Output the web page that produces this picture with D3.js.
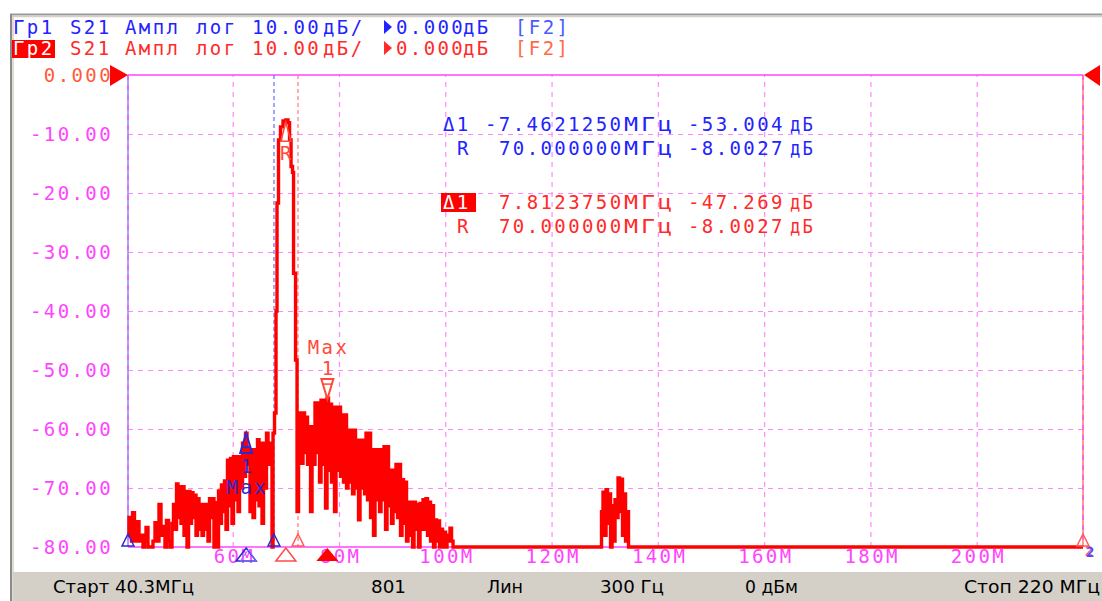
<!DOCTYPE html>
<html><head><meta charset="utf-8">
<script src="https://cdn.jsdelivr.net/npm/d3@7"></script>
<style>
html,body{margin:0;padding:0;background:#fff;}
svg{display:block;}
.mono{font-family:"DejaVu Sans Mono","Liberation Mono",monospace;font-size:19px;letter-spacing:2.4px;}
.stat{font-family:"Liberation Sans Narrow","DejaVu Sans Condensed","Liberation Sans",sans-serif;font-size:17px;fill:#000;}
</style></head><body>
<svg id="c" width="1102" height="601"></svg>
<script>
// ---------- data ----------
const startMHz = 40.3, stopMHz = 220;
const refDb = 0, bottomDb = -80;
const yTicks = [0, -10, -20, -30, -40, -50, -60, -70, -80];
const yTickLabels = ["0.000", "-10.00", "-20.00", "-30.00", "-40.00", "-50.00", "-60.00", "-70.00", "-80.00"];
const xTicks = [60, 80, 100, 120, 140, 160, 180, 200];
const xTickLabels = ["60M", "80M", "100M", "120M", "140M", "160M", "180M", "200M"];

// trace 2 (S21, dB): [MHz, dB]
const lowBandTrace = [
 [40.30,-78],[40.49,-75],[40.96,-79],[41.15,-74.2],[41.52,-79],[41.90,-75.7],[42.37,-79],[42.75,-78],
 [43.12,-80],[43.40,-79],[43.69,-76.7],[44.06,-80],[44.63,-80],[45.00,-79],[45.38,-75.9],[45.76,-79],
 [46.13,-72.8],[46.51,-78],[46.89,-76.5],[47.26,-80],[47.54,-75.5],[47.92,-79],[48.20,-80],[48.58,-76],
 [48.86,-72.8],[49.14,-77],[49.43,-69.3],[49.71,-75],[49.99,-69.8],[50.27,-76],[50.56,-69.8],[50.84,-78],
 [51.12,-70.6],[51.40,-80],[51.69,-70.6],[51.97,-76],[52.25,-70.8],[52.53,-75],[52.81,-71.2],[53.10,-78],
 [53.38,-71.8],[53.66,-77],[53.94,-72.8],[54.23,-78],[54.51,-72.8],[54.79,-77],[55.07,-72.8],[55.35,-79],
 [55.64,-71.8],[55.92,-75],[56.20,-71.8],[56.48,-80],[56.77,-72.5],[57.05,-80],[57.33,-70.5],[57.61,-76],
 [57.89,-69.5],[58.18,-74],[58.46,-68.8],[58.74,-77],[59.02,-65.3],[59.31,-73],[59.59,-65],[59.87,-76],
 [60.15,-64.7],[60.44,-72],[60.72,-64.7],[61.00,-74],[61.28,-64.7],[61.57,-70],[61.85,-62.4],[62.13,-68],
 [62.41,-60.7],[62.69,-66],[62.98,-63.5],[63.26,-74],[63.54,-63.5],[63.82,-75],[64.11,-63.5],[64.39,-72],
 [64.67,-61.8],[64.95,-73],[65.23,-62.4],[65.52,-76],[65.80,-62.4],[66.08,-70],[66.36,-60.7],[66.65,-66],
 [66.93,-62.4],[67.21,-65],[67.40,-80]
];
const peakTrace = [
 [67.59,-60.7],[67.87,-57.3],[68.15,-40],[68.34,-21.7],[68.62,-11],[69.00,-8.8],[69.47,-7.8],[70.00,-7.6],
 [70.41,-8.1],[70.70,-11],[70.98,-15.5],[71.26,-16.5],[71.45,-33.6],[71.83,-48.3],[72.11,-74]
];
const upperBandTrace = [
 [72.39,-63],[72.67,-57.3],[72.95,-65.8],[73.23,-57.3],[73.52,-64],[73.80,-58],[74.08,-66],[74.36,-59.6],
 [74.65,-74],[74.93,-59.6],[75.21,-66],[75.49,-55.6],[75.77,-64],[76.06,-55.6],[76.34,-69],[76.62,-55.1],
 [76.90,-66],[77.19,-55.1],[77.47,-73.4],[77.75,-54.8],[78.03,-67],[78.31,-55.8],[78.60,-69],[78.88,-56.3],
 [79.16,-74],[79.44,-56.3],[79.72,-67],[80.01,-56.3],[80.29,-68],[80.57,-57.6],[80.85,-69],[81.14,-57.6],
 [81.42,-70],[81.70,-60.2],[81.98,-69],[82.27,-60.2],[82.55,-71],[82.83,-60.2],[83.11,-70],[83.39,-61.9],
 [83.68,-75.4],[83.96,-61.9],[84.24,-70],[84.52,-61.9],[84.81,-71],[85.09,-60.7],[85.37,-72],[85.65,-60.7],
 [85.94,-75],[86.22,-63.5],[86.50,-78],[86.78,-63.5],[87.06,-72],[87.35,-63.5],[87.63,-74],[87.91,-63.5],
 [88.19,-72],[88.48,-63],[88.76,-77],[89.04,-63],[89.32,-73],[89.60,-67],[89.89,-76],[90.17,-67],
 [90.45,-74],[90.73,-66],[91.02,-75],[91.30,-66],[91.58,-78],[91.86,-68.6],[92.14,-76],[92.43,-69],
 [92.71,-79],[92.99,-72.4],[93.27,-78],[93.56,-72.4],[93.84,-80],[94.12,-72.4],[94.40,-77],[94.68,-72.8],
 [94.97,-80],[95.25,-72.6],[95.53,-77],[95.81,-72],[96.10,-77],[96.38,-71.8],[96.66,-78],[96.94,-72.4],
 [97.23,-79],[97.51,-73],[97.79,-80],[98.07,-75.4],[98.36,-79],[98.64,-75.6],[98.92,-80],[99.20,-77],
 [99.48,-80],[99.77,-77.5],[100.05,-80],[100.33,-79],[100.61,-78],[100.89,-76.8],[101.18,-79],[101.46,-80]
];
const spurTrace = [
 [129.12,-80],[129.40,-74],[129.68,-70.7],[129.97,-78],[130.25,-70.3],[130.53,-76],[130.81,-71],[131.10,-80],
 [131.38,-73],[131.66,-79],[131.94,-72],[132.23,-75],[132.51,-68.3],[132.79,-74],[133.07,-68.5],[133.35,-78],
 [133.64,-71],[133.92,-79],[134.20,-74],[134.48,-80]
];
const tailTrace = [[220.0,-80]];

// markers
const refMarker = {mhz: 70.0, db: -8.0027};
const blueDelta = {mhz: 70.0 - 7.462125, db: -8.0027 - 53.004};
const redDelta = {mhz: 70.0 + 7.812375, db: -8.0027 - 47.269};
const blueLineMHz = 67.77, redLineMHz = 72.29;

const headerWords = ["Гр1", "S21", "Ампл", "лог", "10.00", "дБ/", "0.000", "дБ", "[F2]"];
const header2Words = ["Гр2", "S21", "Ампл", "лог", "10.00", "дБ/", "0.000", "дБ", "[F2]"];
const readBlue = [["Δ1", "-7.4621250", "МГц", "-53.004", "дБ"], ["R", "70.000000", "МГц", "-8.0027", "дБ"]];
const readRed  = [["Δ1", "7.8123750", "МГц", "-47.269", "дБ"], ["R", "70.000000", "МГц", "-8.0027", "дБ"]];
const statusTexts = ["Старт 40.3МГц", "801", "Лин", "300 Гц", "0 дБм", "Стоп 220 МГц"];

// ---------- drawing ----------
const svg = d3.select("#c");
const L = 128, R = 1083, T = 75, B = 547;
const x = d3.scaleLinear().domain([startMHz, stopMHz]).range([L, R]);
const y = d3.scaleLinear().domain([bottomDb, refDb]).range([B, T]);

const MAG = "#ff44ff", GRID = "#ff88ff", RED = "#ff0000", BLUE = "#2323ff", MBLUE = "#2a2ad0", MRED = "#ff4a3a", TRED = "#ff2a2a";

svg.append("rect").attr("width", 1102).attr("height", 601).attr("fill", "#fff");
// frame
svg.append("rect").attr("x", 13).attr("y", 572).attr("width", 1089).attr("height", 29).attr("fill", "#d4d0c8");
svg.append("line").attr("x1", 10).attr("x2", 1102).attr("y1", 14.5).attr("y2", 14.5).attr("stroke", "#9a9a9a").attr("stroke-width", 2);
svg.append("line").attr("x1", 10).attr("x2", 1102).attr("y1", 16.5).attr("y2", 16.5).attr("stroke", "#d4d0c8").attr("stroke-width", 1.5);
svg.append("line").attr("x1", 11).attr("x2", 11).attr("y1", 14).attr("y2", 601).attr("stroke", "#8a8a8a").attr("stroke-width", 2);
svg.append("line").attr("x1", 13).attr("x2", 13).attr("y1", 16).attr("y2", 601).attr("stroke", "#d4d0c8").attr("stroke-width", 1.5);

// grid
const gy = svg.append("g").attr("transform", `translate(${L},0)`)
  .call(d3.axisLeft(y).tickValues(yTicks.slice(1, -1)).tickSize(-(R - L)).tickFormat(""));
gy.select(".domain").remove();
gy.selectAll("line").attr("stroke", GRID).attr("stroke-dasharray", "5,5").attr("stroke-width", 1.2);
const gx = svg.append("g").attr("transform", `translate(0,${B})`)
  .call(d3.axisBottom(x).tickValues(xTicks).tickSize(-(B - T)).tickFormat(""));
gx.select(".domain").remove();
gx.selectAll("line").attr("stroke", GRID).attr("stroke-dasharray", "5,5").attr("stroke-width", 1.2);

// start/stop marker lines and borders
svg.append("line").attr("x1", x(startMHz)).attr("x2", x(startMHz)).attr("y1", T).attr("y2", B).attr("stroke", "#8a8aff").attr("stroke-width", 1.5);
svg.append("line").attr("x1", x(stopMHz)).attr("x2", x(stopMHz)).attr("y1", T).attr("y2", B).attr("stroke", "#ff9a9a").attr("stroke-width", 2);
[startMHz, stopMHz].forEach(f => svg.append("line").attr("x1", x(f)).attr("x2", x(f)).attr("y1", T).attr("y2", B)
  .attr("stroke", MAG).attr("stroke-dasharray", "5,5").attr("stroke-width", 1.2));
svg.append("line").attr("x1", L).attr("x2", R).attr("y1", y(refDb)).attr("y2", y(refDb)).attr("stroke", MAG).attr("stroke-width", 1.5);
svg.append("line").attr("x1", L).attr("x2", R).attr("y1", y(bottomDb)).attr("y2", y(bottomDb)).attr("stroke", MAG).attr("stroke-width", 1.5);

// bandwidth marker lines
svg.append("line").attr("x1", x(blueLineMHz)).attr("x2", x(blueLineMHz)).attr("y1", T).attr("y2", B)
  .attr("stroke", "#6a6aff").attr("stroke-dasharray", "4,3").attr("stroke-width", 1.2);
svg.append("line").attr("x1", x(redLineMHz)).attr("x2", x(redLineMHz)).attr("y1", T).attr("y2", B)
  .attr("stroke", "#ff7a7a").attr("stroke-dasharray", "4,3").attr("stroke-width", 1.2);

// trace
const trace = [].concat(lowBandTrace, peakTrace, upperBandTrace, spurTrace, tailTrace);
const line = d3.line().x(d => x(d[0])).y(d => y(Math.max(bottomDb, d[1]))).curve(d3.curveStepAfter);
svg.append("path").datum(trace).attr("d", line).attr("fill", "none").attr("stroke", RED)
  .attr("stroke-width", 3.4).attr("stroke-linejoin", "miter");

// y labels
const ya = svg.append("g").attr("transform", `translate(${L},0)`)
  .call(d3.axisLeft(y).tickValues(yTicks).tickSize(0).tickPadding(15).tickFormat((d, i) => yTickLabels[i]));
ya.select(".domain").remove();
ya.selectAll("text").attr("class", "mono").attr("font-size", null).attr("font-family", null)
  .attr("fill", (d, i) => i === 0 ? "#ff5a3a" : MAG);
// x labels
const xa = svg.append("g").attr("transform", `translate(0,${B})`)
  .call(d3.axisBottom(x).tickValues(xTicks).tickSize(0).tickPadding(2).tickFormat((d, i) => xTickLabels[i]));
xa.select(".domain").remove();
xa.selectAll("text").attr("class", "mono").attr("font-size", null).attr("font-family", null)
  .attr("fill", MAG).attr("dx", "1.2");

// reference level arrows
svg.append("path").attr("d", `M${L - 18},${y(refDb) - 10}L${L},${y(refDb)}L${L - 18},${y(refDb) + 11}Z`).attr("fill", RED);
svg.append("path").attr("d", `M${R + 17},${y(refDb) - 10}L${R + 1},${y(refDb)}L${R + 17},${y(refDb) + 11}Z`).attr("fill", RED);

// small marker triangles at floor
function upTri(cx, tipY, hw, h) { return `M${cx},${tipY}L${cx + hw},${tipY + h}L${cx - hw},${tipY + h}Z`; }
function downTri(cx, tipY, hw, h) { return `M${cx},${tipY}L${cx + hw},${tipY - h}L${cx - hw},${tipY - h}Z`; }
[[startMHz, MBLUE], [blueLineMHz, MBLUE], [redLineMHz, "#ff5a5a"], [stopMHz, "#ff5a5a"]].forEach(([f, c]) =>
  svg.append("path").attr("d", upTri(x(f), B - 13, 6, 12)).attr("fill", "none").attr("stroke", c).attr("stroke-width", 1.5));
svg.append("text").attr("x", x(stopMHz) + 2).attr("y", B + 9).attr("fill", "#ff5a5a")
  .style("font-family", "DejaVu Sans Mono").style("font-size", "14px").style("font-weight", "bold").text("2");
svg.append("text").attr("x", x(stopMHz) + 3).attr("y", B + 10).attr("fill", "#4a4aff")
  .style("font-family", "DejaVu Sans Mono").style("font-size", "14px").style("font-weight", "bold").text("2");

// stimulus triangles below axis
svg.append("path").attr("d", upTri(x(blueDelta.mhz), B + 1, 10, 13)).attr("fill", "none").attr("stroke", MBLUE).attr("stroke-width", 1.5);
svg.append("path").attr("d", upTri(x(blueDelta.mhz) + 2, B + 3, 8, 11)).attr("fill", "none").attr("stroke", "#7a7aff").attr("stroke-width", 1);
svg.append("path").attr("d", upTri(x(refMarker.mhz), B + 1, 10, 13)).attr("fill", "none").attr("stroke", "#ff4a4a").attr("stroke-width", 1.5);
svg.append("path").attr("d", upTri(x(redDelta.mhz), B + 1, 11, 13)).attr("fill", RED);

// R marker
svg.append("path").attr("d", upTri(x(refMarker.mhz), y(refMarker.db), 5, 19)).attr("fill", "none").attr("stroke", MRED).attr("stroke-width", 1.5);
svg.append("text").attr("class", "mono").attr("x", x(refMarker.mhz) + 1.2).attr("y", y(refMarker.db) + 38)
  .attr("text-anchor", "middle").attr("fill", MRED).text("R");

// blue delta marker 1
const bx = x(blueDelta.mhz), byy = y(blueDelta.db);
svg.append("path").attr("d", upTri(bx, byy - 2, 6, 20)).attr("fill", "none").attr("stroke", MBLUE).attr("stroke-width", 2);
svg.append("line").attr("x1", bx - 4).attr("x2", bx + 4).attr("y1", byy + 12).attr("y2", byy + 12).attr("stroke", MBLUE).attr("stroke-width", 2);
svg.append("text").attr("class", "mono").attr("x", bx + 1.2).attr("y", byy + 38).attr("text-anchor", "middle").attr("fill", MBLUE).text("1");
svg.append("text").attr("class", "mono").attr("x", bx + 1.2).attr("y", byy + 59).attr("text-anchor", "middle").attr("fill", MBLUE).text("Max");

// red delta marker 1
const rx = x(redDelta.mhz), ryy = y(redDelta.db);
svg.append("path").attr("d", downTri(rx, ryy - 2, 6, 20)).attr("fill", "none").attr("stroke", MRED).attr("stroke-width", 2);
svg.append("line").attr("x1", rx - 5).attr("x2", rx + 5).attr("y1", ryy - 17).attr("y2", ryy - 17).attr("stroke", MRED).attr("stroke-width", 1.5);
svg.append("text").attr("class", "mono").attr("x", rx + 1.2).attr("y", ryy - 26).attr("text-anchor", "middle").attr("fill", MRED).text("1");
svg.append("text").attr("class", "mono").attr("x", rx + 1.2).attr("y", ryy - 47).attr("text-anchor", "middle").attr("fill", MRED).text("Max");

// header
const headX = [13, 70, 125, 196, 252, 323, 396, 463, 515];
function header(words, yy, color, f2color, boxColor) {
  words.forEach((w, i) => {
    if (i === 0 && boxColor) svg.append("rect").attr("x", 12).attr("y", yy - 15).attr("width", 43).attr("height", 18).attr("fill", boxColor);
    svg.append("text").attr("class", "mono").attr("x", headX[i]).attr("y", yy)
      .attr("fill", i === 0 && boxColor ? "#fff" : (i === 8 ? f2color : color)).text(w);
  });
  svg.append("path").attr("d", `M384,${yy - 14}L392,${yy - 7}L384,${yy}Z`).attr("fill", color);
}
header(headerWords, 34, BLUE, "#4a5aff", null);
header(header2Words, 55, TRED, "#ff6a4a", RED);

// readouts
function readout(rows, y0, color, boxed) {
  rows.forEach((row, r) => {
    const yy = y0 + r * 24;
    const xs = [row[0] === "R" ? 457 : 443, row[1].startsWith("-") ? 485 : 499, 624, 688, 790];
    row.forEach((s, i) => {
      let fill = color;
      if (i === 0 && boxed && r === 0) {
        svg.append("rect").attr("x", 441).attr("y", yy - 16).attr("width", 35).attr("height", 19).attr("fill", RED);
        fill = "#fff";
      }
      const t = svg.append("text").attr("class", "mono").attr("x", xs[i]).attr("y", yy).attr("fill", fill).text(s);
      if (i === 2) t.attr("textLength", 51).attr("lengthAdjust", "spacingAndGlyphs");
      if (i === 4) t.attr("textLength", 25).attr("lengthAdjust", "spacingAndGlyphs");
    });
  });
}
readout(readBlue, 131, BLUE, false);
readout(readRed, 209, TRED, true);

// status bar
const statX = [53, 371, 487, 600, 745, 964];
const statW = [141, 35, 36, 64, 53, 136];
statusTexts.forEach((s, i) => svg.append("text").attr("class", "stat").attr("x", statX[i]).attr("y", 593)
  .attr("textLength", statW[i]).attr("lengthAdjust", "spacingAndGlyphs").text(s));
</script>
</body></html>
